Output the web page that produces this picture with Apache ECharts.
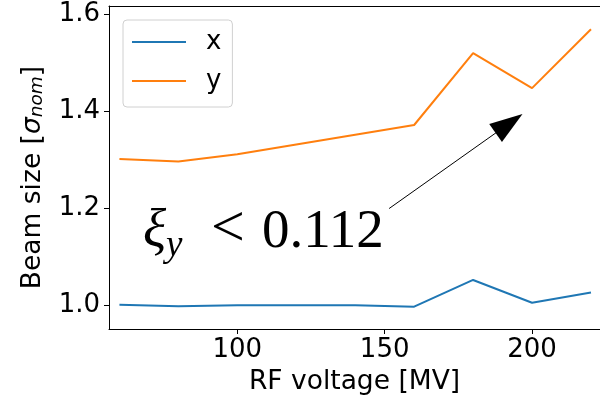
<!DOCTYPE html>
<html>
<head>
<meta charset="utf-8">
<script src="https://cdn.jsdelivr.net/npm/echarts@6/dist/echarts.min.js"></script>
<style>
  html, body { margin: 0; padding: 0; background: #fff; }
  #chart { width: 600px; height: 401px; }
</style>
</head>
<body>
<div id="chart"></div>
<script>
// RF voltage scan: beam size in units of nominal sigma
const rfVoltage = [60, 80, 100, 120, 140, 160, 180, 200, 220];
const sizeX = [1.002, 0.999, 1.001, 1.001, 1.001, 0.998, 1.053, 1.006, 1.027];
const sizeY = [1.302, 1.297, 1.312, 1.332, 1.352, 1.372, 1.520, 1.448, 1.569];
const xTicks = [100, 150, 200];
const yTicks = [1.0, 1.2, 1.4, 1.6];
// annotation arrow: tail and head (data coordinates)
const arrowTail = [151.5, 1.200];
const arrowHead = [192.2, 1.375];

const FONT = 'DejaVu Sans';
const FS = 26;
const chart = echarts.init(document.getElementById('chart'), null, { renderer: 'canvas' });

const xRange = { min: 56.46, max: 223.06 };
const yRange = { min: 0.952, max: 1.617 };

chart.setOption({
  animation: false,
  backgroundColor: '#ffffff',
  grid: { left: 109, top: 6, right: 0, bottom: 71.7, containLabel: false },
  legend: {
    orient: 'vertical',
    left: 123,
    top: 20,
    padding: [8, 11, 12, 9],
    icon: 'rect',
    itemWidth: 54,
    itemHeight: 2,
    itemGap: 11,
    backgroundColor: 'rgba(255,255,255,0.8)',
    borderColor: '#d0d0d0',
    borderWidth: 1,
    borderRadius: 4,
    textStyle: { fontFamily: FONT, fontSize: FS, lineHeight: 28, color: '#000', padding: [0, 0, 0, 15] },
    data: ['x', 'y']
  },
  xAxis: [{
    type: 'value',
    min: xRange.min,
    max: xRange.max,
    name: 'RF voltage [MV]',
    nameLocation: 'middle',
    nameGap: 40,
    nameTextStyle: { fontFamily: FONT, fontSize: 26.5, color: '#000' },
    axisLine: { show: true, onZero: false, lineStyle: { color: '#000', width: 1 } },
    axisTick: { show: true, length: 5, lineStyle: { color: '#000' }, customValues: xTicks },
    axisLabel: { fontFamily: FONT, fontSize: FS, color: '#000', margin: 8, customValues: xTicks },
    splitLine: { show: false }
  }, {
    type: 'value',
    position: 'top',
    min: xRange.min,
    max: xRange.max,
    axisLine: { show: true, onZero: false, lineStyle: { color: '#000', width: 1 } },
    axisTick: { show: false },
    axisLabel: { show: false },
    splitLine: { show: false }
  }],
  yAxis: {
    type: 'value',
    min: yRange.min,
    max: yRange.max,
    name: 'Beam size [{s|σ}{sub|nom}]',
    nameLocation: 'middle',
    nameGap: 62,
    nameTextStyle: {
      fontFamily: FONT, fontSize: 26.5, color: '#000',
      padding: [0, 20, 0, 0],
      rich: {
        s: { fontFamily: FONT, fontSize: 26.5, fontStyle: 'italic', color: '#000' },
        sub: { fontFamily: FONT, fontSize: 18.5, fontStyle: 'italic', color: '#000', padding: [8, 0, 0, 0] }
      }
    },
    axisLine: { show: true, onZero: false, lineStyle: { color: '#000', width: 1 } },
    axisTick: { show: true, length: 5, lineStyle: { color: '#000' }, customValues: yTicks },
    axisLabel: {
      fontFamily: FONT, fontSize: FS, color: '#000', margin: 9, customValues: yTicks,
      formatter: v => v.toFixed(1)
    },
    splitLine: { show: false }
  },
  series: [{
    name: 'x',
    type: 'line',
    data: rfVoltage.map((v, i) => [v, sizeX[i]]),
    symbol: 'none',
    lineStyle: { color: '#1f77b4', width: 2 },
    itemStyle: { color: '#1f77b4' }
  }, {
    name: 'y',
    type: 'line',
    data: rfVoltage.map((v, i) => [v, sizeY[i]]),
    symbol: 'none',
    lineStyle: { color: '#ff7f0e', width: 2 },
    itemStyle: { color: '#ff7f0e' },
    markLine: {
      silent: true,
      animation: false,
      symbol: ['none', 'path://M0,-10 L7,10 L-7,10 Z'],
      symbolSize: [22, 33],
      lineStyle: { color: '#000', width: 1, type: 'solid' },
      itemStyle: { color: '#000' },
      label: { show: false },
      emphasis: { disabled: true },
      data: [[{ coord: arrowTail }, { coord: arrowHead }]]
    }
  }],
  // annotation text: xi_y < 0.112
  graphic: [
    { type: 'text', x: 143, y: 233, silent: true, style: { text: 'ξ', font: 'italic 54px "Liberation Serif"', fill: '#000', verticalAlign: 'middle' } },
    { type: 'text', x: 166, y: 246, silent: true, style: { text: 'y', font: 'italic 37px "Liberation Serif"', fill: '#000', verticalAlign: 'middle' } },
    { type: 'text', x: 211, y: 230, silent: true, style: { text: '<', font: '60px "Liberation Serif"', fill: '#000', verticalAlign: 'middle' } },
    { type: 'text', x: 262, y: 233, silent: true, style: { text: '0.112', font: '55px "Liberation Serif"', fill: '#000', verticalAlign: 'middle' } }
  ]
});
</script>
</body>
</html>
